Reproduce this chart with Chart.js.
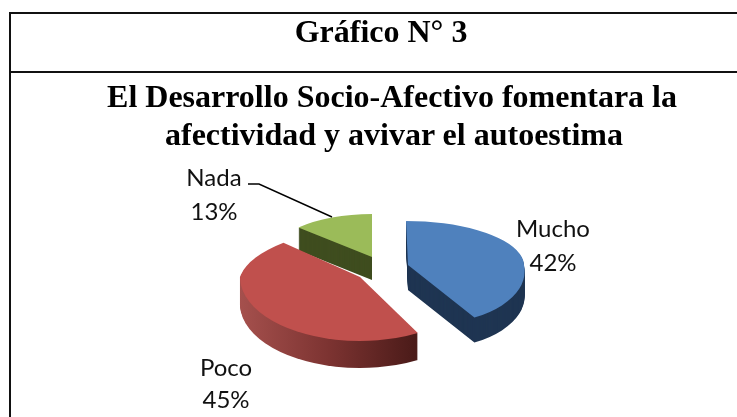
<!DOCTYPE html>
<html lang="es">
<head>
<meta charset="utf-8">
<title>Gráfico N° 3</title>
<script src="https://cdn.jsdelivr.net/npm/chart.js@4"></script>
<style>
html,body{margin:0;padding:0;background:#fff;overflow:hidden}
#wrap{position:relative;width:737px;height:417px;overflow:hidden}
canvas{position:absolute;left:0;top:0}
.rule{position:absolute;background:#111}
.head{position:absolute;white-space:nowrap;font-family:"Liberation Serif",serif;font-weight:bold;color:#000;transform:translateX(-50%);line-height:1;font-size:32px}
</style>
</head>
<body>
<div id="wrap">
  <canvas id="c" width="737" height="417"></canvas>
  <div class="rule" style="left:9px;top:12px;width:2px;height:405px"></div>
  <div class="rule" style="left:9px;top:12px;width:728px;height:2px"></div>
  <div class="rule" style="left:9px;top:71px;width:728px;height:2px"></div>
  <div class="head" style="left:381px;top:15px" id="h1"></div>
  <div class="head" style="left:392px;top:80px" id="h2"></div>
  <div class="head" style="left:394px;top:118px" id="h3"></div>
</div>
<script>
const headingNumber = "Gráfico N° 3";
const headingLines = ["El Desarrollo Socio-Afectivo fomentara la", "afectividad y avivar el autoestima"];
const categories = ["Mucho", "Poco", "Nada"];
const percentages = [42, 45, 13];
const topColors = ["#4f81bd", "#c0504d", "#9bbb59"];
const sideColors = ["#1f3552", null, "#3f4d1f"];

document.getElementById("h1").textContent = headingNumber;
document.getElementById("h2").textContent = headingLines[0];
document.getElementById("h3").textContent = headingLines[1];

// Projection of each exploded slice: centre, width, back and front half-heights, skews, depth
const projection = [
  {cx:408, cy:265, rx:116, ryBack:44, ryFront:60, skewBack:0.045, skewFront:0.2, depth:25},
  {cx:360, cy:277, rx:120, ryBack:50, ryFront:64, skewBack:-0.32, skewFront:0, depth:27},
  {cx:372, cy:257, rx:101, ryBack:43, ryFront:50, skewBack:0, skewFront:0, depth:23}
];
const drawOrder = [2, 0, 1];
const labelSpots = [
  {x:553, y1:229, y2:263},
  {x:226, y1:368, y2:400},
  {x:214, y1:178, y2:212}
];

function drawSquashed(ctx, el, p, options, dy) {
  const r = el.outerRadius;
  const clone = Object.create(el);
  clone.options = options;
  [[p.ryBack, p.skewBack, el.y - r - 2, r + 2.6], [p.ryFront, p.skewFront, el.y, r + 2]].forEach(([ry, k, top, h]) => {
    ctx.save();
    ctx.translate(p.cx, p.cy + dy);
    ctx.transform(p.rx / r, 0, k * ry / r, ry / r, 0, 0);
    ctx.translate(-el.x, -el.y);
    ctx.beginPath();
    ctx.rect(el.x - r - 2, top, 2 * r + 4, h);
    ctx.clip();
    clone.draw(ctx);
    ctx.restore();
  });
}

const extrudedPie = {
  id: "extrudedPie",
  beforeDatasetDraw(chart) {
    const ctx = chart.ctx;
    const arcs = chart.getDatasetMeta(0).data;
    drawOrder.forEach(i => {
      const el = arcs[i], p = projection[i], r = el.outerRadius;
      let side = sideColors[i];
      if (!side) {
        side = ctx.createLinearGradient(el.x - r, 0, el.x + 0.49 * r, 0);
        side.addColorStop(0, "#a5504d");
        side.addColorStop(0.5, "#7c3331");
        side.addColorStop(1, "#491a18");
      }
      const sideOpts = Object.assign({}, el.options, {backgroundColor: side, borderWidth: 0});
      for (let d = p.depth; d >= 1; d--) drawSquashed(ctx, el, p, sideOpts, d);
      drawSquashed(ctx, el, p, Object.assign({}, el.options, {borderWidth: 0}), 0);
    });
    return false;
  },
  afterDatasetsDraw(chart) {
    const ctx = chart.ctx;
    ctx.save();
    ctx.strokeStyle = "#000";
    ctx.lineWidth = 1.4;
    ctx.beginPath();
    ctx.moveTo(248, 184);
    ctx.lineTo(259, 184);
    ctx.lineTo(332, 217);
    ctx.stroke();
    ctx.fillStyle = "#111";
    ctx.font = '24px Lato, "Open Sans", sans-serif';
    ctx.textAlign = "center";
    ctx.textBaseline = "middle";
    categories.forEach((name, i) => {
      ctx.fillText(name, labelSpots[i].x, labelSpots[i].y1);
      ctx.fillText(percentages[i] + "%", labelSpots[i].x, labelSpots[i].y2);
    });
    ctx.restore();
  }
};

new Chart(document.getElementById("c"), {
  type: "pie",
  data: {
    labels: categories,
    datasets: [{data: percentages, backgroundColor: topColors, borderWidth: 0}]
  },
  options: {
    responsive: false,
    animation: false,
    events: [],
    plugins: {legend: {display: false}, tooltip: {enabled: false}, title: {display: false}}
  },
  plugins: [extrudedPie]
});
</script>
</body>
</html>
